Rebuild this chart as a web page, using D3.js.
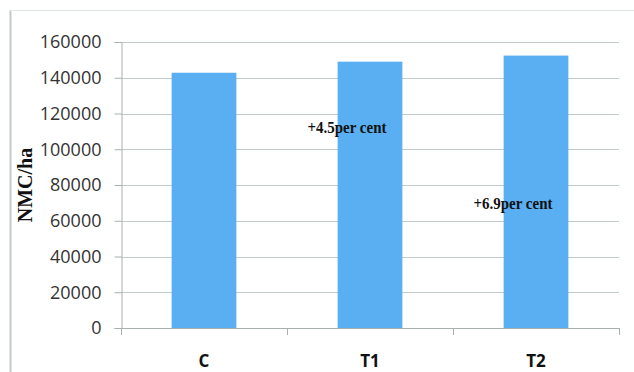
<!DOCTYPE html>
<html>
<head>
<meta charset="utf-8">
<script src="https://cdn.jsdelivr.net/npm/d3@7"></script>
<style>
  html, body { margin: 0; padding: 0; background: #fff; }
  svg { display: block; }
</style>
</head>
<body>
<svg id="chart" width="634" height="372"></svg>
<script>
// Net monetary contribution per hectare by treatment
const categories = ["C", "T1", "T2"];
const nmcValues = [142800, 149000, 152400];
const yTicks = [0, 20000, 40000, 60000, 80000, 100000, 120000, 140000, 160000];
const increaseLabels = [null, "+4.5per cent", "+6.9per cent"];
const increaseLabelLevels = [null, 109000, 66500];

const svg = d3.select("#chart");
const W = 634, H = 372;
const plot = { left: 121, right: 619, top: 42, bottom: 328 };

// Chart frame (left and top edges)
svg.append("line")
  .attr("x1", 10.5).attr("x2", 10.5).attr("y1", 10).attr("y2", H)
  .attr("stroke", "#c4caca").attr("stroke-width", 2);
svg.append("line")
  .attr("x1", 10).attr("x2", W).attr("y1", 10.5).attr("y2", 10.5)
  .attr("stroke", "#dfe5e5").attr("stroke-width", 1);

const x = d3.scaleBand()
  .domain(categories)
  .range([plot.left, plot.right])
  .paddingInner(0.61)
  .paddingOuter(0.305);

const y = d3.scaleLinear()
  .domain([0, 160000])
  .range([plot.bottom, plot.top]);

// Horizontal gridlines
svg.append("g")
  .selectAll("line")
  .data(yTicks.filter(d => d > 0))
  .join("line")
  .attr("x1", plot.left).attr("x2", plot.right)
  .attr("y1", d => Math.round(y(d)) + 0.5)
  .attr("y2", d => Math.round(y(d)) + 0.5)
  .attr("stroke", "#c3cccc")
  .attr("stroke-width", 1.2);

// Bars
svg.append("g")
  .selectAll("rect")
  .data(categories.map((c, i) => ({ c, v: nmcValues[i] })))
  .join("rect")
  .attr("x", d => x(d.c))
  .attr("width", x.bandwidth())
  .attr("y", d => y(d.v))
  .attr("height", d => y(0) - y(d.v))
  .attr("fill", "#5aaff2");

// Y axis
const yAxis = d3.axisLeft(y)
  .tickValues(yTicks)
  .tickFormat(d3.format("d"))
  .tickSize(7)
  .tickPadding(13);
const gy = svg.append("g")
  .attr("transform", `translate(${plot.left + 0.5},0)`)
  .call(yAxis);
gy.select(".domain").attr("stroke", "#a9b0b0");
gy.selectAll(".tick line").attr("stroke", "#a9b0b0");
gy.selectAll(".tick text")
  .attr("fill", "#333")
  .attr("font-family", "'Open Sans', 'Liberation Sans', sans-serif")
  .attr("font-size", 18);

// X axis with tick marks at category boundaries
const boundaries = [plot.left, ...categories.map(c => x(c) + x.bandwidth() + x.step() * x.paddingInner() / 2)];
const gx = svg.append("g");
gx.append("line")
  .attr("x1", plot.left).attr("x2", plot.right)
  .attr("y1", plot.bottom + 0.5).attr("y2", plot.bottom + 0.5)
  .attr("stroke", "#a9b0b0");
gx.selectAll("line.bound")
  .data(boundaries.slice(0, categories.length).concat([plot.right]))
  .join("line")
  .attr("class", "bound")
  .attr("x1", d => Math.round(d) + 0.5).attr("x2", d => Math.round(d) + 0.5)
  .attr("y1", plot.bottom).attr("y2", plot.bottom + 7)
  .attr("stroke", "#a9b0b0");
gx.selectAll("text")
  .data(categories)
  .join("text")
  .attr("x", d => x(d) + x.bandwidth() / 2)
  .attr("y", 367)
  .attr("text-anchor", "middle")
  .attr("font-family", "'Open Sans', 'Liberation Sans', sans-serif")
  .attr("font-weight", "bold")
  .attr("font-size", 17)
  .attr("fill", "#111")
  .text(d => d);

// Y axis title
svg.append("text")
  .attr("transform", "translate(32,185) rotate(-90)")
  .attr("text-anchor", "middle")
  .attr("font-family", "'Liberation Serif', 'DejaVu Serif', serif")
  .attr("font-weight", "bold")
  .attr("font-size", 20)
  .attr("fill", "#111")
  .text("NMC/ha");

// Percentage increase annotations, set a little left of each bar's centre
svg.append("g")
  .selectAll("text")
  .data(categories.map((c, i) => ({ c, label: increaseLabels[i], level: increaseLabelLevels[i] }))
    .filter(d => d.label))
  .join("text")
  .attr("x", d => x(d.c) + x.bandwidth() / 2 - 23)
  .attr("y", d => y(d.level))
  .attr("text-anchor", "middle")
  .attr("font-family", "'Liberation Serif', 'DejaVu Serif', serif")
  .attr("font-weight", "bold")
  .attr("font-size", 17)
  .attr("textLength", 79)
  .attr("lengthAdjust", "spacingAndGlyphs")
  .attr("fill", "#111")
  .text(d => d.label);
</script>
</body>
</html>
